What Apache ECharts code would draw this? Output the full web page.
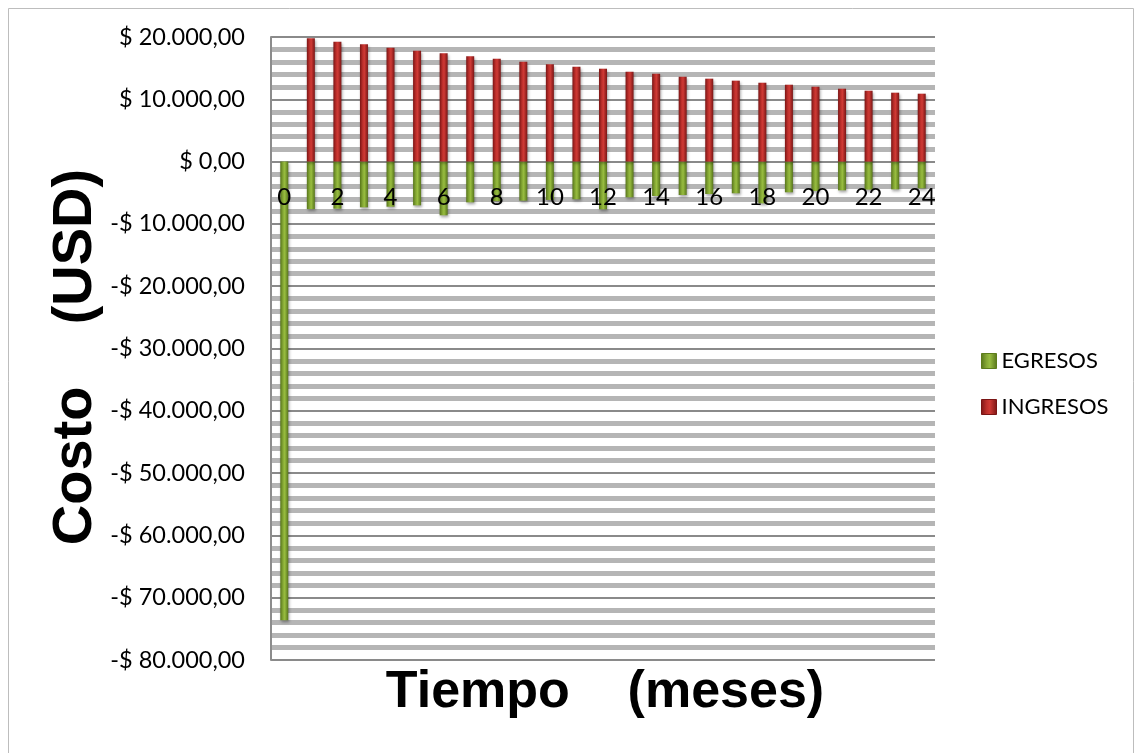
<!DOCTYPE html>
<html>
<head>
<meta charset="utf-8">
<title>Costo vs Tiempo</title>
<script src="https://cdn.jsdelivr.net/npm/echarts@6/dist/echarts.min.js"></script>
<style>
  html, body { margin: 0; padding: 0; background: #fff; }
  #chart { width: 1135px; height: 753px; }
</style>
</head>
<body>
<div id="chart"></div>
<script>
// Months 0..24
const meses = ['0','1','2','3','4','5','6','7','8','9','10','11','12','13','14','15','16','17','18','19','20','21','22','23','24'];

// Monthly income (USD); no income in month 0
const ingresos = [null, 19800, 19250, 18830, 18280, 17800, 17380, 16900, 16520, 16030, 15620, 15230,
  14910, 14430, 14110, 13630, 13310, 12990, 12660, 12340, 12020, 11700, 11380, 11060, 10900];

// Monthly expenses (USD), month 0 is the initial investment
const egresos = [-73600, -7630, -7560, -7340, -7240, -7020, -8620, -6540, -6350, -6270, -6150, -6050,
  -7660, -5730, -5520, -5360, -5200, -5090, -6700, -4930, -4720, -4610, -4500, -4450, -4290];

// Value axis range
const yMin = -80000, yMax = 20000, yStep = 10000;

function money(v) {
  const neg = v < 0;
  const a = Math.abs(v).toFixed(2).split('.');
  const ent = a[0].replace(/\B(?=(\d{3})+(?!\d))/g, '.');
  return (neg ? '-$ ' : '$ ') + ent + ',' + a[1];
}

function cyl(dark, mid, light) {
  return new echarts.graphic.LinearGradient(0, 0, 1, 0, [
    { offset: 0, color: dark },
    { offset: 0.35, color: mid },
    { offset: 0.55, color: light },
    { offset: 1, color: dark }
  ]);
}

const redFill = cyl('#7a1515', '#bd2f2b', '#cf3a35');
const greenFill = cyl('#56741a', '#86a935', '#98bd40');

const chart = echarts.init(document.getElementById('chart'), null, { renderer: 'canvas' });

chart.setOption({
  backgroundColor: '#ffffff',
  animation: false,
  textStyle: { fontFamily: 'Lato', color: '#000' },
  grid: { left: 271, right: 200, top: 37, bottom: 93, containLabel: false },
  legend: {
    orient: 'vertical',
    left: 976,
    top: 345,
    itemWidth: 15,
    itemHeight: 15,
    itemGap: 24,
    icon: 'rect',
    textStyle: { fontFamily: 'Lato', fontSize: 22, color: '#000' },
    data: [
      { name: 'EGRESOS', itemStyle: { color: greenFill, borderColor: '#5d7d1b', borderWidth: 1 } },
      { name: 'INGRESOS', itemStyle: { color: redFill, borderColor: '#7a1515', borderWidth: 1 } }
    ]
  },
  xAxis: {
    type: 'category',
    data: meses,
    axisLine: { show: false },
    axisTick: { show: false },
    splitLine: { show: false },
    axisLabel: { show: false }
  },
  yAxis: {
    type: 'value',
    min: yMin,
    max: yMax,
    interval: yStep,
    axisLine: { show: true, lineStyle: { color: '#8c8c8c', width: 2 } },
    axisTick: { show: false },
    axisLabel: {
      margin: 26,
      fontFamily: 'Lato',
      fontSize: 23.5,
      color: '#000',
      formatter: money
    },
    splitLine: { show: true, lineStyle: { color: '#8a8a8a', width: 2 } },
    minorTick: { show: false, splitNumber: 5 },
    minorSplitLine: { show: true, lineStyle: { color: '#b5b5b5', width: 5 } }
  },
  series: [
    {
      name: 'EGRESOS',
      type: 'bar',
      data: egresos,
      barWidth: 8,
      barGap: '-100%',
      itemStyle: {
        color: greenFill,
        shadowColor: 'rgba(0,0,0,0.35)',
        shadowBlur: 3,
        shadowOffsetX: 1,
        shadowOffsetY: 2
      }
    },
    {
      name: 'INGRESOS',
      type: 'bar',
      data: ingresos,
      barWidth: 8,
      barGap: '-100%',
      itemStyle: {
        color: redFill,
        shadowColor: 'rgba(0,0,0,0.35)',
        shadowBlur: 3,
        shadowOffsetX: 1,
        shadowOffsetY: 2
      }
    },
    {
      // month labels sitting just under the zero line, every other month
      name: 'meses',
      type: 'custom',
      silent: true,
      z: 10,
      legendHoverLink: false,
      data: meses.map((m, i) => [i, 0]),
      renderItem: function (params, api) {
        const i = api.value(0);
        if (i % 2 !== 0) return null;
        const p = api.coord([i, 0]);
        return {
          type: 'text',
          x: p[0],
          y: p[1] + 24,
          style: {
            text: meses[i],
            font: '24px Lato',
            fill: '#000',
            align: 'center',
            verticalAlign: 'top'
          }
        };
      }
    }
  ],
  graphic: [
    {
      type: 'rect',
      silent: true,
      shape: { x: 8.5, y: 8.5, width: 1125, height: 800 },
      style: { fill: null, stroke: '#bdbdbd', lineWidth: 1 }
    },
    {
      type: 'text',
      x: 605,
      y: 693,
      style: {
        text: 'Tiempo    (meses)',
        font: 'bold 52px "Liberation Sans", Arial, sans-serif',
        fill: '#000',
        align: 'center',
        verticalAlign: 'middle'
      }
    },
    {
      type: 'text',
      x: 76,
      y: 357,
      rotation: Math.PI / 2,
      style: {
        text: 'Costo    (USD)',
        font: 'bold 56px "Liberation Sans", Arial, sans-serif',
        fill: '#000',
        align: 'center',
        verticalAlign: 'middle'
      }
    }
  ]
});
</script>
</body>
</html>
